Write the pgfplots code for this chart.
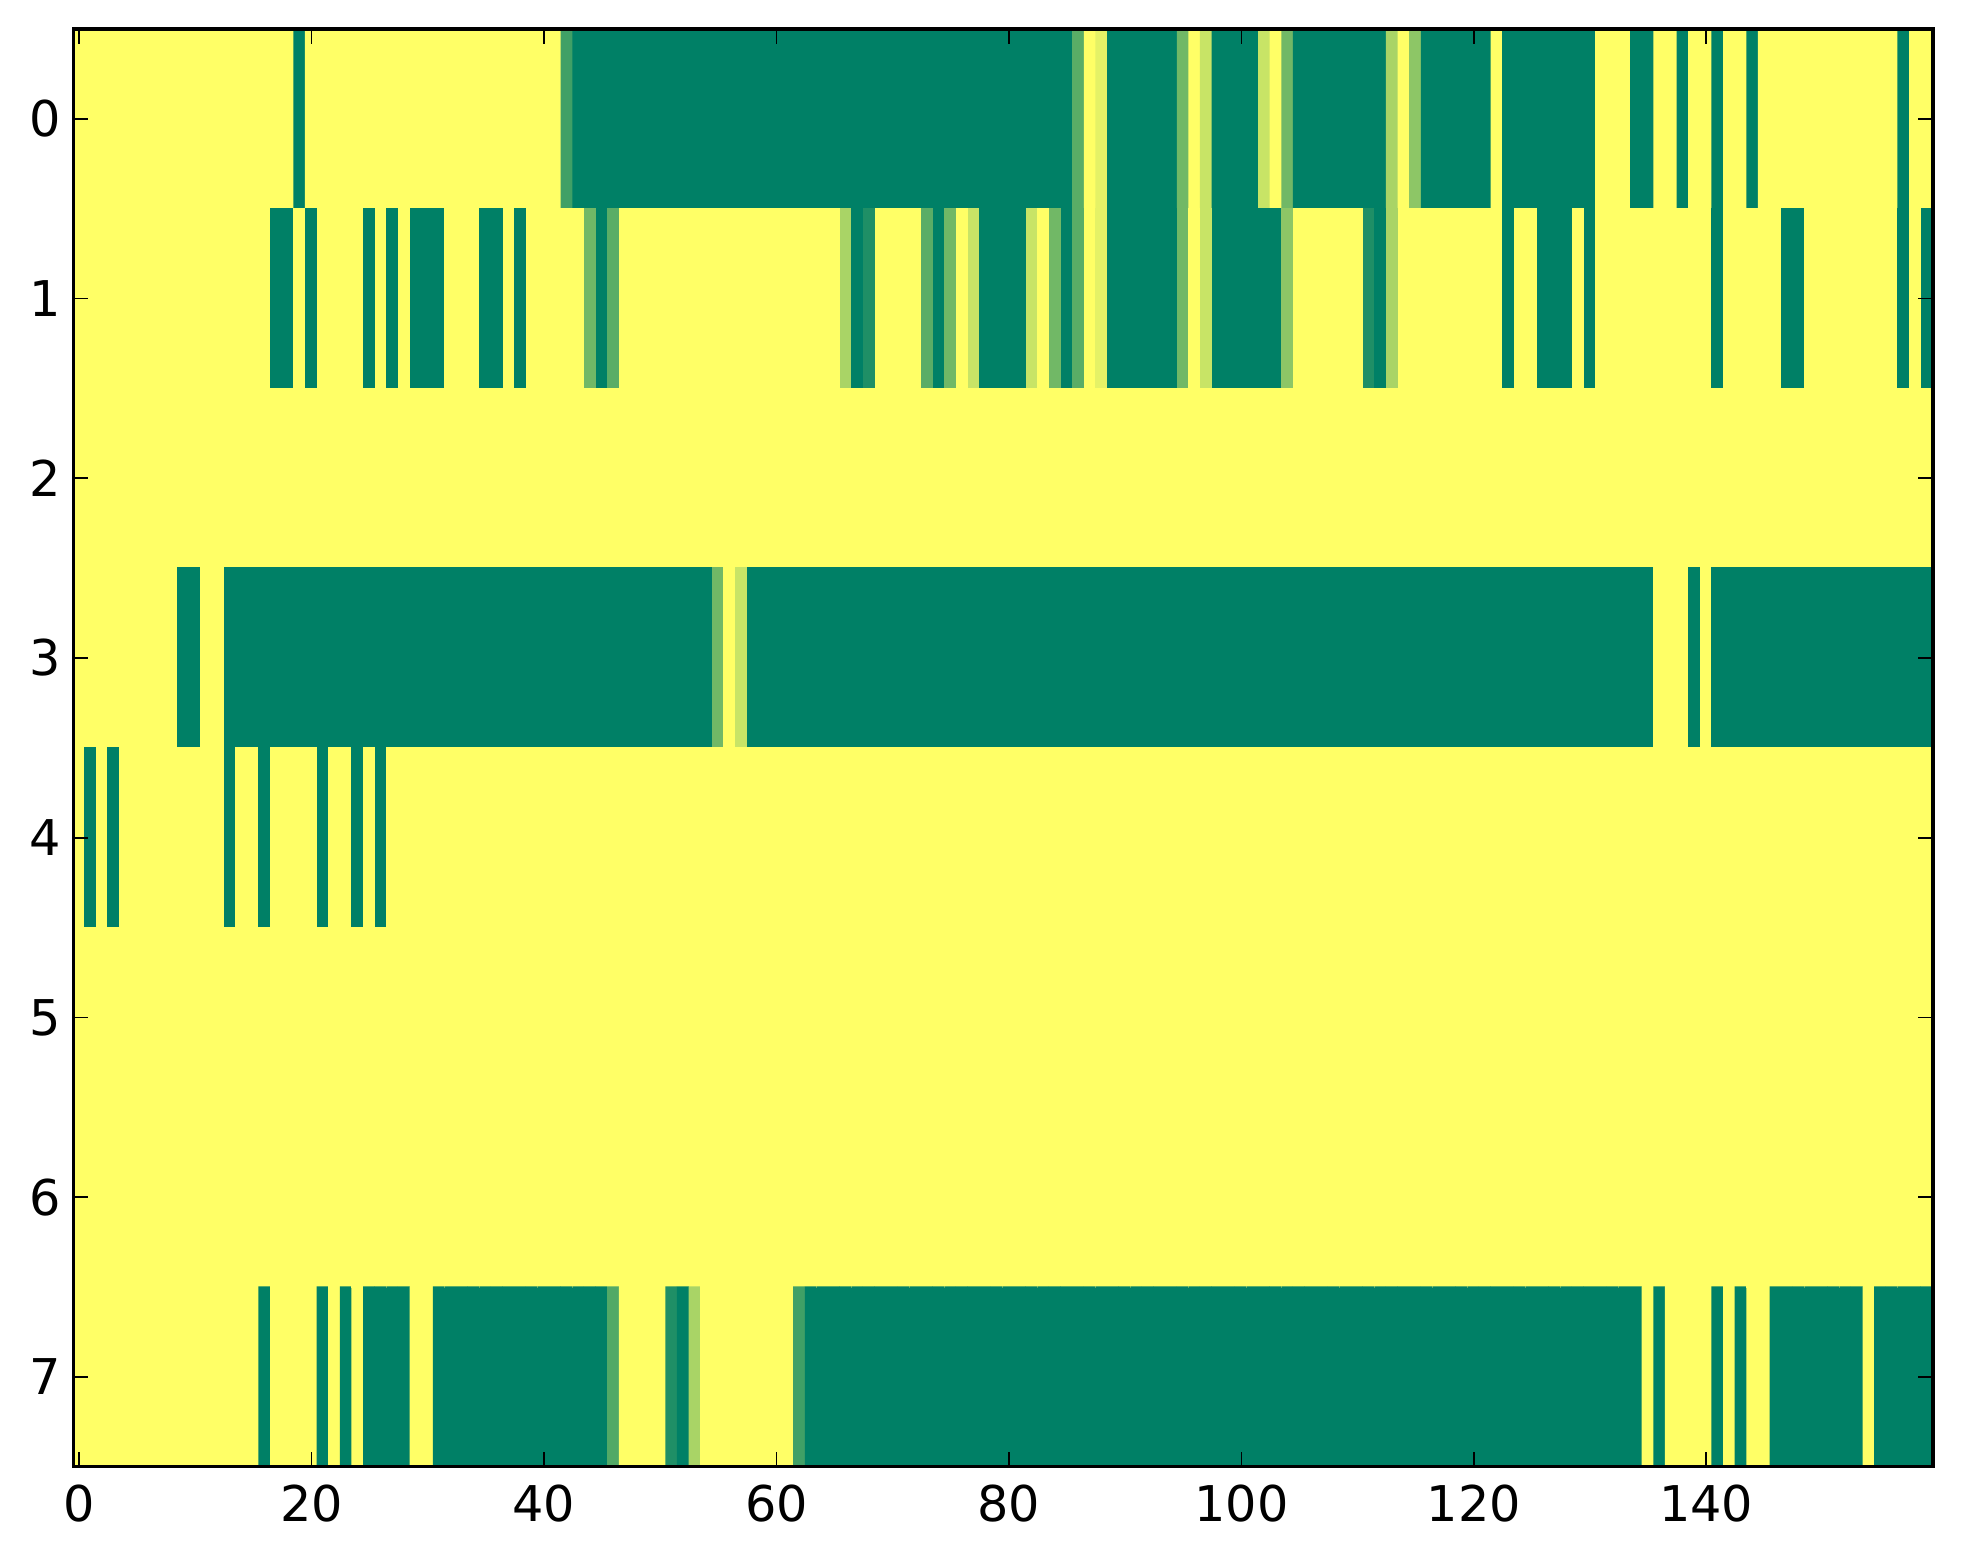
\documentclass[border=0pt]{standalone}
\usepackage{fontspec}
\setmainfont{DejaVu Sans}
\usepackage{pgfplots}
\usepackage{pgfplotstable}
\pgfplotsset{compat=1.18}
% row 0
\pgfplotstableread[row sep=\\]{
z\\
1\\1\\1\\1\\1\\1\\1\\1\\1\\1\\
1\\1\\1\\1\\1\\1\\1\\1\\1\\0\\
1\\1\\1\\1\\1\\1\\1\\1\\1\\1\\
1\\1\\1\\1\\1\\1\\1\\1\\1\\1\\
1\\1\\0.25\\0\\0\\0\\0\\0\\0\\0\\
0\\0\\0\\0\\0\\0\\0\\0\\0\\0\\
0\\0\\0\\0\\0\\0\\0\\0\\0\\0\\
0\\0\\0\\0\\0\\0\\0\\0\\0\\0\\
0\\0\\0\\0\\0\\0\\0.35\\1\\0.89\\0\\
0\\0\\0\\0\\0\\0.44\\1\\0.78\\0\\0\\
0\\0\\0.78\\1\\0.44\\0\\0\\0\\0\\0\\
0\\0\\0\\0.66\\1\\0.55\\0\\0\\0\\0\\
0\\0\\1\\0\\0\\0\\0\\0\\0\\0\\
0\\1\\1\\1\\0\\0\\1\\1\\0\\1\\
1\\0\\1\\1\\0\\1\\1\\1\\1\\1\\
1\\1\\1\\1\\1\\1\\1\\0\\1\\1\\
}\rowzero
% row 1
\pgfplotstableread[row sep=\\]{
z\\
1\\1\\1\\1\\1\\1\\1\\1\\1\\1\\
1\\1\\1\\1\\1\\1\\1\\0\\0\\1\\
0\\1\\1\\1\\1\\0\\1\\0\\1\\0\\
0\\0\\1\\1\\1\\0\\0\\1\\0\\1\\
1\\1\\1\\1\\0.44\\0\\0.35\\1\\1\\1\\
1\\1\\1\\1\\1\\1\\1\\1\\1\\1\\
1\\1\\1\\1\\1\\1\\0.66\\0\\0.12\\1\\
1\\1\\1\\0.35\\0\\0.44\\1\\0.78\\0\\0\\
0\\0\\0.78\\1\\0.44\\0\\0.35\\1\\0.89\\0\\
0\\0\\0\\0\\0\\0.44\\1\\0.78\\0\\0\\
0\\0\\0\\0\\0.55\\1\\1\\1\\1\\1\\
1\\0.12\\0\\0.66\\1\\1\\1\\1\\1\\1\\
1\\1\\1\\0\\1\\1\\0\\0\\0\\1\\
0\\1\\1\\1\\1\\1\\1\\1\\1\\1\\
1\\0\\1\\1\\1\\1\\1\\0\\0\\1\\
1\\1\\1\\1\\1\\1\\1\\0\\1\\0\\
}\rowone
% rows 2, 5, 6 (all yellow)
\pgfplotstableread[row sep=\\]{
z\\
1\\1\\1\\1\\1\\1\\1\\1\\1\\1\\
1\\1\\1\\1\\1\\1\\1\\1\\1\\1\\
1\\1\\1\\1\\1\\1\\1\\1\\1\\1\\
1\\1\\1\\1\\1\\1\\1\\1\\1\\1\\
1\\1\\1\\1\\1\\1\\1\\1\\1\\1\\
1\\1\\1\\1\\1\\1\\1\\1\\1\\1\\
1\\1\\1\\1\\1\\1\\1\\1\\1\\1\\
1\\1\\1\\1\\1\\1\\1\\1\\1\\1\\
1\\1\\1\\1\\1\\1\\1\\1\\1\\1\\
1\\1\\1\\1\\1\\1\\1\\1\\1\\1\\
1\\1\\1\\1\\1\\1\\1\\1\\1\\1\\
1\\1\\1\\1\\1\\1\\1\\1\\1\\1\\
1\\1\\1\\1\\1\\1\\1\\1\\1\\1\\
1\\1\\1\\1\\1\\1\\1\\1\\1\\1\\
1\\1\\1\\1\\1\\1\\1\\1\\1\\1\\
1\\1\\1\\1\\1\\1\\1\\1\\1\\1\\
}\rowall
\pgfplotstableread[row sep=\\]{
z\\
1\\1\\1\\1\\1\\1\\1\\1\\1\\1\\
1\\1\\1\\1\\1\\1\\1\\1\\1\\1\\
1\\1\\1\\1\\1\\1\\1\\1\\1\\1\\
1\\1\\1\\1\\1\\1\\1\\1\\1\\1\\
1\\1\\1\\1\\1\\1\\1\\1\\1\\1\\
1\\1\\1\\1\\1\\1\\1\\1\\1\\1\\
1\\1\\1\\1\\1\\1\\1\\1\\1\\1\\
1\\1\\1\\1\\1\\1\\1\\1\\1\\1\\
1\\1\\1\\1\\1\\1\\1\\1\\1\\1\\
1\\1\\1\\1\\1\\1\\1\\1\\1\\1\\
1\\1\\1\\1\\1\\1\\1\\1\\1\\1\\
1\\1\\1\\1\\1\\1\\1\\1\\1\\1\\
1\\1\\1\\1\\1\\1\\1\\1\\1\\1\\
1\\1\\1\\1\\1\\1\\1\\1\\1\\1\\
1\\1\\1\\1\\1\\1\\1\\1\\1\\1\\
1\\1\\1\\1\\1\\1\\1\\1\\1\\1\\
}\rowfive
\pgfplotstableread[row sep=\\]{
z\\
1\\1\\1\\1\\1\\1\\1\\1\\1\\1\\
1\\1\\1\\1\\1\\1\\1\\1\\1\\1\\
1\\1\\1\\1\\1\\1\\1\\1\\1\\1\\
1\\1\\1\\1\\1\\1\\1\\1\\1\\1\\
1\\1\\1\\1\\1\\1\\1\\1\\1\\1\\
1\\1\\1\\1\\1\\1\\1\\1\\1\\1\\
1\\1\\1\\1\\1\\1\\1\\1\\1\\1\\
1\\1\\1\\1\\1\\1\\1\\1\\1\\1\\
1\\1\\1\\1\\1\\1\\1\\1\\1\\1\\
1\\1\\1\\1\\1\\1\\1\\1\\1\\1\\
1\\1\\1\\1\\1\\1\\1\\1\\1\\1\\
1\\1\\1\\1\\1\\1\\1\\1\\1\\1\\
1\\1\\1\\1\\1\\1\\1\\1\\1\\1\\
1\\1\\1\\1\\1\\1\\1\\1\\1\\1\\
1\\1\\1\\1\\1\\1\\1\\1\\1\\1\\
1\\1\\1\\1\\1\\1\\1\\1\\1\\1\\
}\rowsix
% row 3
\pgfplotstableread[row sep=\\]{
z\\
1\\1\\1\\1\\1\\1\\1\\1\\1\\0\\
0\\1\\1\\0\\0\\0\\0\\0\\0\\0\\
0\\0\\0\\0\\0\\0\\0\\0\\0\\0\\
0\\0\\0\\0\\0\\0\\0\\0\\0\\0\\
0\\0\\0\\0\\0\\0\\0\\0\\0\\0\\
0\\0\\0\\0\\0\\0.44\\1\\0.78\\0\\0\\
0\\0\\0\\0\\0\\0\\0\\0\\0\\0\\
0\\0\\0\\0\\0\\0\\0\\0\\0\\0\\
0\\0\\0\\0\\0\\0\\0\\0\\0\\0\\
0\\0\\0\\0\\0\\0\\0\\0\\0\\0\\
0\\0\\0\\0\\0\\0\\0\\0\\0\\0\\
0\\0\\0\\0\\0\\0\\0\\0\\0\\0\\
0\\0\\0\\0\\0\\0\\0\\0\\0\\0\\
0\\0\\0\\0\\0\\0\\1\\1\\1\\0\\
1\\0\\0\\0\\0\\0\\0\\0\\0\\0\\
0\\0\\0\\0\\0\\0\\0\\0\\0\\0\\
}\rowthree
% row 4
\pgfplotstableread[row sep=\\]{
z\\
1\\0\\1\\0\\1\\1\\1\\1\\1\\1\\
1\\1\\1\\0\\1\\1\\0\\1\\1\\1\\
1\\0\\1\\1\\0\\1\\0\\1\\1\\1\\
1\\1\\1\\1\\1\\1\\1\\1\\1\\1\\
1\\1\\1\\1\\1\\1\\1\\1\\1\\1\\
1\\1\\1\\1\\1\\1\\1\\1\\1\\1\\
1\\1\\1\\1\\1\\1\\1\\1\\1\\1\\
1\\1\\1\\1\\1\\1\\1\\1\\1\\1\\
1\\1\\1\\1\\1\\1\\1\\1\\1\\1\\
1\\1\\1\\1\\1\\1\\1\\1\\1\\1\\
1\\1\\1\\1\\1\\1\\1\\1\\1\\1\\
1\\1\\1\\1\\1\\1\\1\\1\\1\\1\\
1\\1\\1\\1\\1\\1\\1\\1\\1\\1\\
1\\1\\1\\1\\1\\1\\1\\1\\1\\1\\
1\\1\\1\\1\\1\\1\\1\\1\\1\\1\\
1\\1\\1\\1\\1\\1\\1\\1\\1\\1\\
}\rowfour
% row 7
\pgfplotstableread[row sep=\\]{
z\\
1\\1\\1\\1\\1\\1\\1\\1\\1\\1\\
1\\1\\1\\1\\1\\1\\0\\1\\1\\1\\
1\\0\\1\\0\\1\\0\\0\\0\\0\\1\\
1\\0\\0\\0\\0\\0\\0\\0\\0\\0\\
0\\0\\0\\0\\0\\0\\0.32\\1\\1\\1\\
1\\0.12\\0\\0.66\\1\\1\\1\\1\\1\\1\\
1\\1\\0.25\\0\\0\\0\\0\\0\\0\\0\\
0\\0\\0\\0\\0\\0\\0\\0\\0\\0\\
0\\0\\0\\0\\0\\0\\0\\0\\0\\0\\
0\\0\\0\\0\\0\\0\\0\\0\\0\\0\\
0\\0\\0\\0\\0\\0\\0\\0\\0\\0\\
0\\0\\0\\0\\0\\0\\0\\0\\0\\0\\
0\\0\\0\\0\\0\\0\\0\\0\\0\\0\\
0\\0\\0\\0\\0\\1\\0\\1\\1\\1\\
1\\0\\1\\0\\1\\1\\0\\0\\0\\0\\
0\\0\\0\\0\\1\\0\\0\\0\\0\\0\\
}\rowseven
\pgfplotstablevertcat{\rowzero}{\rowone}
\pgfplotstablevertcat{\rowzero}{\rowall}
\pgfplotstablevertcat{\rowzero}{\rowthree}
\pgfplotstablevertcat{\rowzero}{\rowfour}
\pgfplotstablevertcat{\rowzero}{\rowfive}
\pgfplotstablevertcat{\rowzero}{\rowsix}
\pgfplotstablevertcat{\rowzero}{\rowseven}
\begin{document}
\begin{tikzpicture}
\begin{axis}[
  at={(0,0)}, anchor=south west,
  scale only axis, width=520.7pt, height=402.6pt,
  xmin=-0.5, xmax=159.5, ymin=-0.5, ymax=7.5,
  y dir=reverse,
  xtick={0,20,...,140}, ytick={0,1,...,7},
  tick align=inside, tick pos=both,
  major tick length=4.2pt,
  every tick/.style={black, line width=0.5pt},
  axis line style={line width=0.9pt},
  tick label style={font=\fontsize{13.8}{16}\selectfont},
  xticklabel style={yshift=-1.5pt},
  /pgf/number format/assume math mode=true,
  colormap={summer}{rgb255=(0,128,102) rgb255=(255,255,102)},
  point meta min=0, point meta max=1,
  enlargelimits=false, axis on top,
]
\addplot[matrix plot*, mesh/cols=160, mesh/rows=8, point meta=explicit]
 table[x index=0, y index=0, x expr={mod(\coordindex,160)}, y expr={floor(\coordindex/160)}, meta=z] {\rowzero};
\end{axis}
\pgfresetboundingbox
\path[use as bounding box] (-20.5pt,-27.2pt) rectangle (529.1pt,410.7pt);
\end{tikzpicture}
\end{document}
